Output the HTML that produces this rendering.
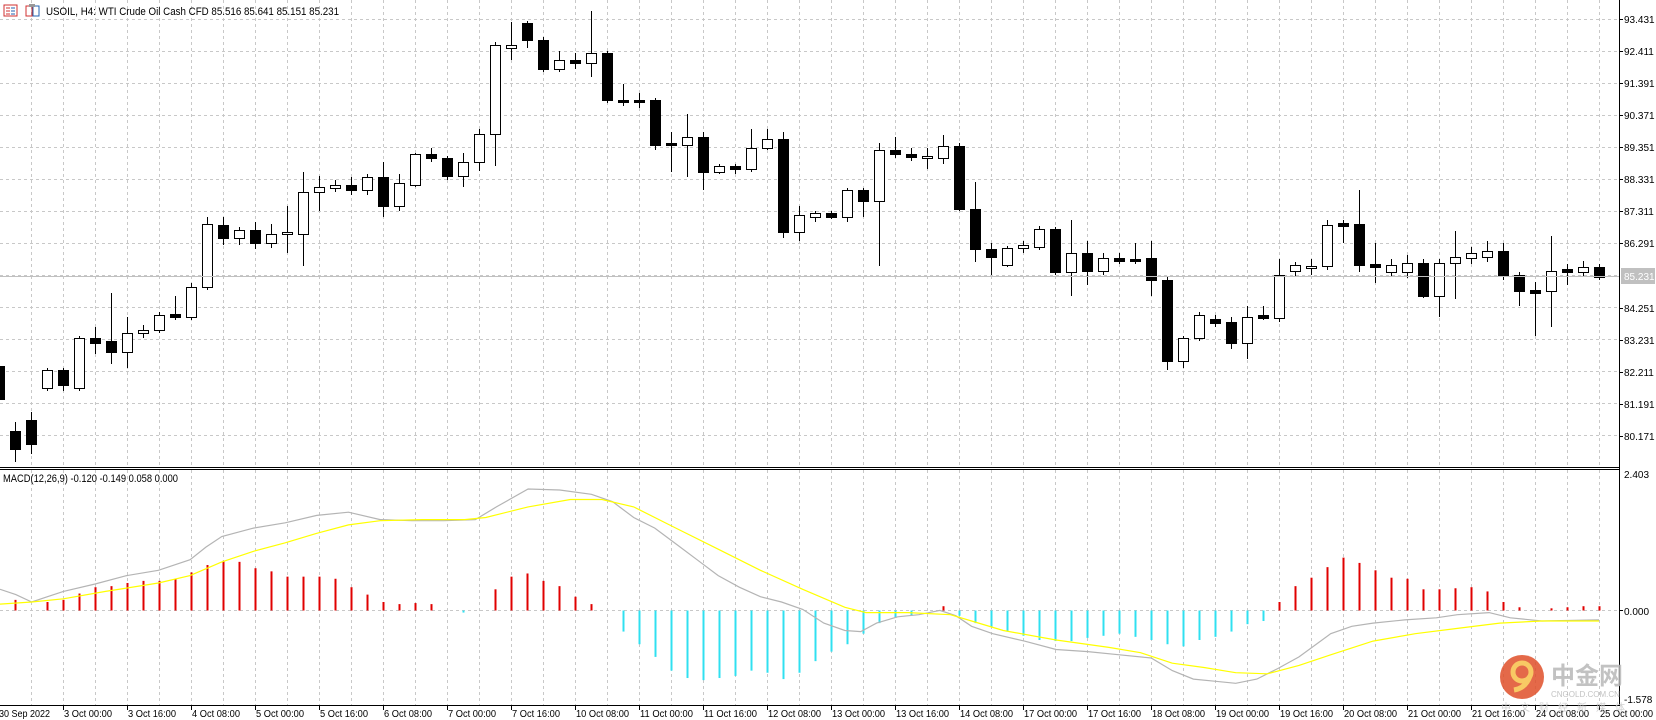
<!DOCTYPE html>
<html><head><meta charset="utf-8"><style>
html,body{margin:0;padding:0;background:#fff;}
svg{display:block;}
text{font-family:"Liberation Sans","Noto Sans CJK SC",sans-serif;font-size:10px;fill:#000;}
</style></head><body>
<svg id="c" width="1656" height="720" viewBox="0 0 1656 720" xmlns="http://www.w3.org/2000/svg">
<rect width="1656" height="720" fill="#fff"/>
<g id="grid" stroke="#c8c8c8" stroke-width="1" stroke-dasharray="3,3"></g>
<g id="macd"></g>
<g id="candles"></g>
<line x1="0" y1="276.5" x2="1619" y2="276.5" stroke="#c0c0c0"/>
<line x1="0" y1="467.5" x2="1620" y2="467.5" stroke="#000"/>
<line x1="0" y1="469.5" x2="1620" y2="469.5" stroke="#000"/>
<line x1="1619.5" y1="0" x2="1619.5" y2="706" stroke="#000"/>
<line x1="0" y1="705.5" x2="1620" y2="705.5" stroke="#000"/>
<g id="axis"></g>
<g>
<rect x="4" y="5" width="13" height="11" fill="none" stroke="#d03030"/>
<line x1="6" y1="8" x2="10" y2="8" stroke="#d03030"/><line x1="6" y1="11" x2="10" y2="11" stroke="#d03030"/><line x1="6" y1="14" x2="10" y2="14" stroke="#d03030"/>
<line x1="11" y1="8" x2="15" y2="8" stroke="#2060b0"/><line x1="11" y1="11" x2="15" y2="11" stroke="#2060b0"/><line x1="11" y1="14" x2="15" y2="14" stroke="#2060b0"/>
<rect x="26" y="6" width="6" height="10" fill="none" stroke="#d03030"/>
<rect x="33" y="6" width="6" height="10" fill="none" stroke="#2060b0"/>
<rect x="29" y="4" width="6" height="3" fill="#999"/>
<text x="46" y="15" style="font-size:11px" textLength="293" lengthAdjust="spacingAndGlyphs">USOIL, H4:  WTI Crude Oil Cash CFD   85.516 85.641 85.151 85.231</text>
<text x="3" y="482" style="font-size:11px" textLength="175" lengthAdjust="spacingAndGlyphs">MACD(12,26,9) -0.120 -0.149 0.058 0.000</text>
</g>
<g opacity="0.85">
<circle cx="1522" cy="677" r="22" fill="#e0502a"/>
<circle cx="1522" cy="672" r="9" fill="none" stroke="#f7c04a" stroke-width="5"/>
<path d="M1514 690 Q1526 688 1530 676" fill="none" stroke="#f7c04a" stroke-width="5"/>
<text x="1551" y="684" style="font-size:24px;font-weight:bold;fill:#b8b8b8">中金网</text>
<text x="1551" y="697" style="font-size:8px;fill:#b8b8b8">CNGOLD.COM.CN</text>
<text x="1501" y="711" style="font-size:10px;fill:#c8c8c8;letter-spacing:9px">中文财经新媒体</text>
</g>
</svg>
<script>
var NS="http://www.w3.org/2000/svg",S=1656/1568;
function el(p,t,a,txt){var e=document.createElementNS(NS,t);for(var k in a)e.setAttribute(k,a[k]);if(txt!=null)e.textContent=txt;document.getElementById(p).appendChild(e);return e;}
for(var k=0;k<14;k++){var y=19+32*k+0.5;el("grid","line",{x1:0,y1:y,x2:1619,y2:y});}
for(var x=31;x<=1599;x+=32){el("grid","line",{x1:x+0.5,y1:0,x2:x+0.5,y2:467});el("grid","line",{x1:x+0.5,y1:470,x2:x+0.5,y2:705});}
el("grid","line",{x1:0,y1:610.5,x2:1619,y2:610.5});
var pl=["93.431","92.411","91.391","90.371","89.351","88.331","87.311","86.291"];
for(var k=0;k<pl.length;k++){var y=19+32*k;el("axis","line",{x1:1619,y1:y+0.5,x2:1623,y2:y+0.5,stroke:"#000"});el("axis","text",{x:1624,y:y+4},pl[k]);}
var pl2=["84.251","83.231","82.211","81.191","80.171"];
for(var k=0;k<pl2.length;k++){var y=308+32*k;el("axis","line",{x1:1619,y1:y+0.5,x2:1623,y2:y+0.5,stroke:"#000"});el("axis","text",{x:1624,y:y+4},pl2[k]);}
el("axis","rect",{x:1621,y:268,width:34,height:16,fill:"#c0c0c0"});
el("axis","text",{x:1624,y:280,style:"fill:#fff"},"85.231");
el("axis","text",{x:1624,y:478},"2.403");
el("axis","line",{x1:1619,y1:610.5,x2:1623,y2:610.5,stroke:"#000"});
el("axis","text",{x:1624,y:615},"0.000");
el("axis","text",{x:1624,y:703},"-1.578");
var tl=["3 Oct 00:00","3 Oct 16:00","4 Oct 08:00","5 Oct 00:00","5 Oct 16:00","6 Oct 08:00","7 Oct 00:00","7 Oct 16:00","10 Oct 08:00","11 Oct 00:00","11 Oct 16:00","12 Oct 08:00","13 Oct 00:00","13 Oct 16:00","14 Oct 08:00","17 Oct 00:00","17 Oct 16:00","18 Oct 08:00","19 Oct 00:00","19 Oct 16:00","20 Oct 08:00","21 Oct 00:00","21 Oct 16:00","24 Oct 08:00","25 Oct 00:00"];
el("axis","text",{x:-1,y:717,textLength:51,lengthAdjust:"spacingAndGlyphs"},"30 Sep 2022");
for(var k=0;k<tl.length;k++){var x=63+64*k;el("axis","line",{x1:x+0.5,y1:705,x2:x+0.5,y2:710,stroke:"#000"});var L=tl[k].length>11?53:48;el("axis","text",{x:x+1,y:717,textLength:L,lengthAdjust:"spacingAndGlyphs"},tl[k]);}
var C=[[347,378,340,390,1],[408,425,400,437,1],[398,420,390,430,1],[350,367,348,370,0],[350,365,348,370,1],[320,367,318,370,0],[320,325,310,335,1],[323,333,277,345,1],[315,333,300,348,0],[312,315,308,320,0],[298,312,295,315,0],[297,300,280,303,1],[272,300,268,303,0],[212,272,205,275,0],[213,225,205,232,1],[218,225,215,232,0],[218,230,210,236,1],[222,230,212,235,0],[220,222,195,240,0],[182,222,163,252,0],[177,182,167,200,0],[175,178,170,182,0],[175,180,168,185,1],[168,180,165,185,0],[168,195,153,205,1],[173,195,165,200,0],[146,175,145,177,0],[146,150,140,153,1],[150,167,148,170,1],[153,167,145,177,0],[127,153,122,162,0],[43,127,40,157,0],[43,45,21,57,0],[22,38,20,45,1],[38,65,35,68,1],[57,65,48,68,0],[57,60,50,65,1],[50,60,10,73,0],[50,95,48,98,1],[95,97,80,100,1],[95,97,88,102,1],[95,137,93,142,1],[135,137,125,163,1],[130,137,108,168,0],[130,163,125,180,1],[157,163,155,165,0],[157,160,155,165,1],[140,160,122,163,0],[132,140,122,142,0],[132,220,125,225,1],[204,220,195,228,0],[202,205,200,210,0],[202,205,200,207,1],[180,205,178,210,0],[180,190,178,205,1],[142,190,135,252,0],[142,146,130,150,1],[146,149,140,152,1],[148,149,140,160,0],[138,150,128,155,0],[138,198,135,200,1],[198,236,172,248,1],[236,243,230,260,1],[235,251,233,253,0],[232,235,228,240,0],[217,234,214,237,0],[217,258,215,260,1],[240,258,208,280,0],[240,257,228,270,1],[244,257,240,260,0],[244,247,240,250,1],[245,247,230,250,1],[244,265,228,280,1],[265,342,262,350,1],[320,342,318,348,0],[298,320,295,323,0],[302,306,298,310,1],[305,325,300,330,1],[300,325,290,340,0],[298,301,290,303,1],[260,301,245,305,0],[251,257,248,262,0],[252,253,245,260,0],[213,252,208,256,0],[211,214,208,230,1],[212,251,180,258,1],[250,253,230,268,1],[251,258,245,262,0],[249,258,241,263,0],[249,280,245,282,1],[249,280,245,300,0],[243,249,219,283,0],[240,244,234,250,0],[238,243,228,248,0],[238,260,230,265,1],[260,276,258,290,1],[275,277,267,318,1],[257,276,223,310,0],[255,258,250,270,1],[253,258,247,262,0],[253,262,250,265,1]];
for(var i=0;i<C.length;i++){var c=C[i],x=16*i-1,t=Math.round(c[0]*S),b=Math.round(c[1]*S);if(b-t<2)b=t+2;
el("candles","line",{x1:x+0.5,y1:Math.round(c[2]*S),x2:x+0.5,y2:Math.round(c[3]*S),stroke:"#000"});
el("candles","rect",{x:x-4.5,y:t+0.5,width:10,height:b-t,fill:c[4]?"#000":"#fff",stroke:"#000"});}
var H=[578,568,578,570,568,562,556,555,552,550,550,548,542,535,531,532,538,541,546,546,546,548,556,563,570,572,571,572,578,580,578,558,546,543,550,555,565,572,578,598,610,622,635,642,644,642,640,635,637,643,637,626,617,610,600,590,585,583,578,574,583,590,594,598,602,606,607,607,604,602,600,603,606,610,612,606,603,598,591,588,570,555,547,537,528,533,540,547,548,558,558,557,556,560,570,575,578,576,575,574,574];
var z=610.5;
for(var i=1;i<H.length;i++){var y=H[i]*S,x=16*i-1;if(Math.abs(y-z)<1)continue;
el("macd","line",{x1:x+0.5,y1:z,x2:x+0.5,y2:y,stroke:y<z?"#e00000":"#30e0f0","stroke-width":2});}
function poly(pts,col){var s=pts.map(function(p){return (p[0]*S).toFixed(1)+","+(p[1]*S).toFixed(1)}).join(" ");el("macd","polyline",{points:s,fill:"none",stroke:col,"stroke-width":1.2});}
poly([[0,558],[15,563],[30,570],[45,565],[60,560],[90,553],[120,545],[150,540],[180,530],[195,518],[210,508],[240,500],[270,495],[300,488],[330,485],[360,492],[390,493],[420,493],[450,492],[470,480],[500,463],[530,464],[560,468],[580,475],[600,490],[620,500],[640,515],[660,530],[680,545],[700,556],[720,565],[740,570],[760,577],[780,590],[800,597],[815,598],[830,590],[850,584],[870,582],[890,578],[905,583],[920,593],[940,600],[970,607],[1000,615],[1030,617],[1060,620],[1090,623],[1110,635],[1130,643],[1150,645],[1170,647],[1190,643],[1210,633],[1230,622],[1260,600],[1280,593],[1300,590],[1330,587],[1360,585],[1380,582],[1410,580],[1430,585],[1460,588],[1514,587]],"#b4b4b4");
poly([[0,572],[30,570],[60,567],[100,560],[150,552],[180,545],[210,532],[240,522],[270,514],[300,505],[330,497],[360,493],[400,492],[440,492],[460,490],[500,480],[540,473],[570,473],[600,480],[640,500],[680,520],[720,540],[760,558],[800,575],[820,580],[860,580],[900,582],[920,588],[950,597],[1000,606],[1050,613],[1080,618],[1110,628],[1140,632],[1170,637],[1200,638],[1230,630],[1260,620],[1300,607],[1340,600],[1380,595],[1420,590],[1460,588],[1514,588]],"#ffff00");
</script>
</body></html>
